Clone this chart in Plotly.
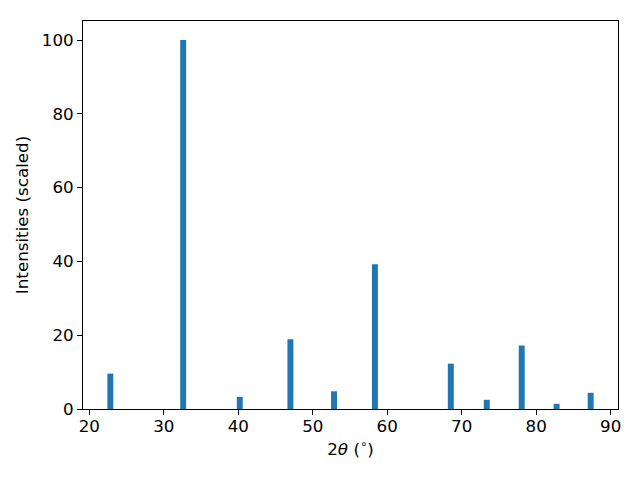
import plotly.graph_objects as go

two_theta = [22.82, 32.6, 40.2, 47.0, 52.86, 58.35, 68.54, 73.37, 78.06, 82.75, 87.32]
intensity = [9.6, 100.0, 3.3, 18.9, 4.8, 39.2, 12.3, 2.5, 17.2, 1.4, 4.4]
x_ticks = [20, 30, 40, 50, 60, 70, 80, 90]
y_ticks = [0, 20, 40, 60, 80, 100]

fig = go.Figure(go.Bar(
    x=two_theta, y=intensity, width=0.8,
    marker=dict(color="#1f77b4", line=dict(width=0)),
))

font = dict(family="DejaVu Sans", size=16.7, color="black")
fig.update_layout(
    width=640, height=480,
    margin=dict(l=75, r=30, t=13, b=79),
    paper_bgcolor="white", plot_bgcolor="white",
    font=font, showlegend=False,
)
fig.update_xaxes(
    range=[19.15, 90.99], tickvals=x_ticks, ticktext=[str(v) for v in x_ticks],
    showline=True, linecolor="black", linewidth=1, mirror=True,
    ticks="outside", ticklen=5, tickcolor="black", tickwidth=1,
    showgrid=False, zeroline=False, tickfont=font, ticklabelstandoff=-3,
    title=dict(text="2<i>θ</i> (<sup>∘</sup>)", font=font, standoff=8),
)
fig.update_yaxes(
    range=[0, 105.15], tickvals=y_ticks, ticktext=[str(v) for v in y_ticks],
    showline=True, linecolor="black", linewidth=1, mirror=True,
    ticks="outside", ticklen=5, tickcolor="black", tickwidth=1,
    showgrid=False, zeroline=False, tickfont=font,
    title=dict(text="Intensities (scaled)", font=font, standoff=8),
)

fig.write_html("out.html")
